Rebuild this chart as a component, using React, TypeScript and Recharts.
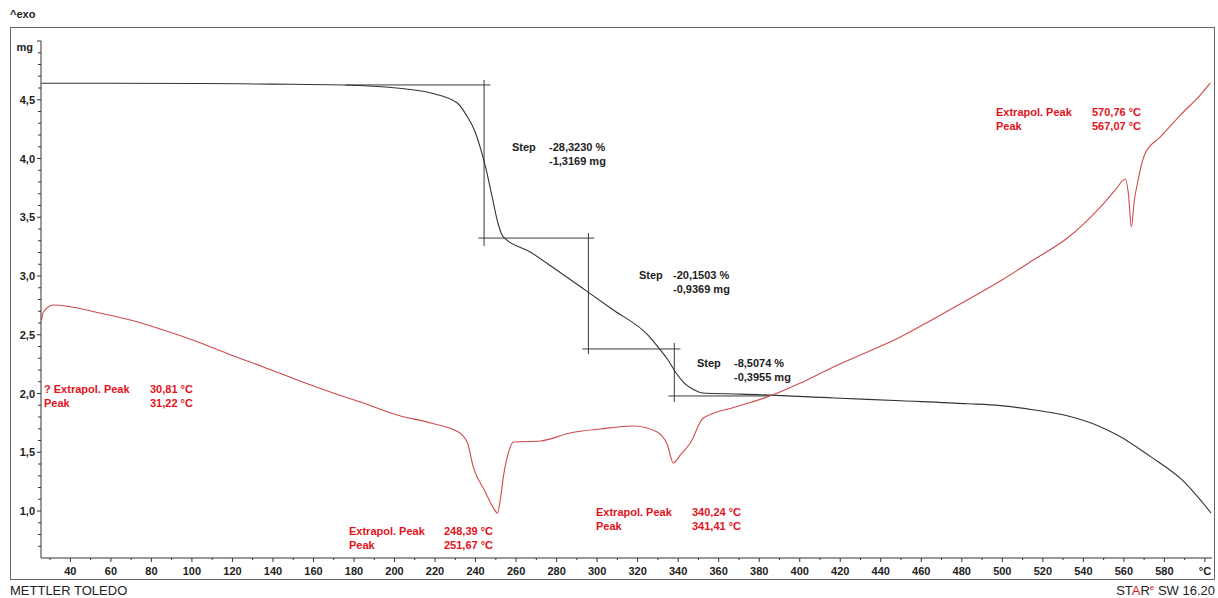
import { ComposedChart, Line, XAxis, YAxis, ReferenceLine } from 'recharts';

// TGA curve (mass, mg)
const tgaTemp = [25.7, 60, 104, 140, 175, 201, 218, 231, 236, 239.4, 242.4, 245.3, 248.3, 251.3, 253.7, 267, 280, 292, 308, 325, 330, 335, 339, 343, 348, 352, 371, 417, 450, 483, 499, 515, 532, 548, 557, 573, 589, 603];
const tgaMass = [4.64, 4.64, 4.638, 4.633, 4.626, 4.6, 4.557, 4.472, 4.353, 4.243, 4.089, 3.902, 3.664, 3.434, 3.332, 3.204, 3.051, 2.906, 2.711, 2.498, 2.396, 2.285, 2.174, 2.089, 2.03, 2.004, 1.995, 1.962, 1.938, 1.913, 1.897, 1.862, 1.81, 1.72, 1.645, 1.465, 1.26, 0.983];

// DSC curve (^exo, drawn in the same vertical units as the plot)
const dscTemp = [25.7, 26.7, 31.6, 53.3, 69.6, 85.9, 102.7, 119, 135.3, 152, 168.3, 184.6, 201.4, 217.7, 231.5, 236, 238.9, 244.8, 248.8, 250.8, 252.2, 253.7, 256.2, 258.7, 272, 286.8, 301.6, 317.9, 329.7, 334.7, 337.6, 341.1, 346, 352.4, 368.2, 384, 400.3, 416.6, 433.4, 449.7, 466, 482.7, 499, 515.3, 532.1, 548.4, 555.8, 560.7, 562.3, 563.7, 565.2, 566.7, 570.6, 578, 587.9, 597.7, 602.7];
const dscSignal = [2.626, 2.694, 2.753, 2.69, 2.625, 2.54, 2.44, 2.33, 2.226, 2.115, 2.013, 1.919, 1.817, 1.749, 1.672, 1.579, 1.374, 1.162, 1.026, 0.983, 1.094, 1.289, 1.494, 1.587, 1.596, 1.664, 1.698, 1.723, 1.672, 1.562, 1.409, 1.477, 1.579, 1.791, 1.885, 1.97, 2.089, 2.226, 2.353, 2.481, 2.634, 2.796, 2.957, 3.136, 3.323, 3.587, 3.732, 3.826, 3.689, 3.417, 3.647, 3.791, 4.047, 4.183, 4.37, 4.54, 4.643];

// step evaluation construction lines: [t1, m1, t2, m2]
const stepLines = [
  [175.7, 4.626, 247.3, 4.626],
  [244.2, 4.668, 244.2, 3.255],
  [241.4, 3.323, 298.6, 3.323],
  [295.7, 3.366, 295.7, 2.336],
  [292.7, 2.379, 341.1, 2.379],
  [338.1, 2.43, 338.1, 1.928],
  [335.2, 1.979, 385, 1.979],
];

const xTicks = [30, 40, 50, 60, 70, 80, 90, 100, 110, 120, 130, 140, 150, 160, 170, 180, 190, 200, 210, 220, 230, 240, 250, 260, 270, 280, 290, 300, 310, 320, 330, 340, 350, 360, 370, 380, 390, 400, 410, 420, 430, 440, 450, 460, 470, 480, 490, 500, 510, 520, 530, 540, 550, 560, 570, 580, 590, 600];
const yTicks = [0.7, 0.8, 0.9, 1.0, 1.1, 1.2, 1.3, 1.4, 1.5, 1.6, 1.7, 1.8, 1.9, 2.0, 2.1, 2.2, 2.3, 2.4, 2.5, 2.6, 2.7, 2.8, 2.9, 3.0, 3.1, 3.2, 3.3, 3.4, 3.5, 3.6, 3.7, 3.8, 3.9, 4.0, 4.1, 4.2, 4.3, 4.4, 4.5, 4.6, 4.7, 4.8, 4.9, 5.0];

const stepNotes = [
  { left: 512, valLeft: 549, top: 140, pct: '-28,3230 %', mg: '-1,3169 mg' },
  { left: 639, valLeft: 673, top: 268, pct: '-20,1503 %', mg: '-0,9369 mg' },
  { left: 697, valLeft: 734, top: 356, pct: '-8,5074 %', mg: '-0,3955 mg' },
];
const peakNotes = [
  { left: 44, valLeft: 150, top: 382, name: '? Extrapol. Peak', extra: '30,81 °C', peak: '31,22 °C' },
  { left: 349, valLeft: 444, top: 524, name: 'Extrapol. Peak', extra: '248,39 °C', peak: '251,67 °C' },
  { left: 596, valLeft: 692, top: 505, name: 'Extrapol. Peak', extra: '340,24 °C', peak: '341,41 °C' },
  { left: 996, valLeft: 1092, top: 105, name: 'Extrapol. Peak', extra: '570,76 °C', peak: '567,07 °C' },
];

const tgaData = tgaTemp.map((t, i) => ({ t, m: tgaMass[i] }));
const dscData = dscTemp.map((t, i) => ({ t, s: dscSignal[i] }));

const FONT = '"Liberation Sans", Arial, sans-serif';
const RED = '#e3121b';

const XTick = ({ x, y, payload }: any) => {
  const v = payload.value;
  const major = v % 20 === 0;
  return (
    <g>
      <line x1={x} x2={x} y1={y} y2={y + (major ? 4 : 2)} stroke="#333" />
      {major && (
        <text x={x} y={y + 17} textAnchor="middle" fontSize={11} fontWeight="bold" fontFamily={FONT} fill="#222">
          {v === 600 ? '°C' : v}
        </text>
      )}
    </g>
  );
};

const YTick = ({ x, y, payload }: any) => {
  const v = payload.value;
  const major = Math.abs(v * 2 - Math.round(v * 2)) < 1e-6;
  const top = Math.abs(v - 5) < 1e-6;
  return (
    <g>
      <line x1={x - (major ? 4 : 3)} x2={x} y1={y} y2={y} stroke="#333" />
      {major && !top && (
        <text x={x - 6} y={y + 4} textAnchor="end" fontSize={11} fontWeight="bold" fontFamily={FONT} fill="#222">
          {v.toFixed(1).replace('.', ',')}
        </text>
      )}
      {top && (
        <text x={x - 8} y={y + 10} textAnchor="end" fontSize={11} fontWeight="bold" fontFamily={FONT} fill="#222">
          mg
        </text>
      )}
    </g>
  );
};

const txt: any = { position: 'absolute', fontFamily: FONT, fontSize: 11, fontWeight: 'bold', lineHeight: '14px', whiteSpace: 'nowrap' };
const foot: any = { position: 'absolute', top: 584, fontFamily: FONT, fontSize: 13, lineHeight: '14px', color: '#222', whiteSpace: 'nowrap' };

export default function App() {
  return (
    <div style={{ position: 'absolute', left: 0, top: 0, width: 1218, height: 598, background: '#fff', overflow: 'hidden' }}>
      <div style={{ ...txt, left: 10, top: 7, color: '#222' }}>^exo</div>
      <div style={{ position: 'absolute', left: 10, top: 27, width: 1205, height: 553, border: '1px solid #666', boxSizing: 'border-box' }} />
      <div style={{ position: 'absolute', left: 0, top: 0 }}>
        <ComposedChart width={1218} height={598} margin={{ top: 41, right: 6, bottom: 18, left: 0 }}>
          <XAxis
            type="number"
            dataKey="t"
            domain={[25.5, 603.5]}
            ticks={xTicks}
            interval={0}
            tick={<XTick />}
            tickLine={false}
            tickSize={0}
            tickMargin={0}
            height={22}
            allowDataOverflow
            stroke="#333"
          />
          <YAxis
            yAxisId="mg"
            type="number"
            domain={[0.6, 5.0]}
            ticks={yTicks}
            interval={0}
            tick={<YTick />}
            tickLine={false}
            tickSize={0}
            tickMargin={0}
            width={41}
            allowDataOverflow
            stroke="#333"
          />
          <YAxis yAxisId="dsc" orientation="right" type="number" domain={[0.6, 5.0]} hide />
          {stepLines.map((s, i) => (
            <ReferenceLine
              key={i}
              yAxisId="mg"
              segment={[{ x: s[0], y: s[1] }, { x: s[2], y: s[3] }]}
              stroke="#3a3a3a"
              strokeWidth={1}
            />
          ))}
          <Line
            yAxisId="mg"
            data={tgaData}
            dataKey="m"
            type="monotone"
            stroke="#333"
            strokeWidth={1.1}
            dot={false}
            isAnimationActive={false}
          />
          <Line
            yAxisId="dsc"
            data={dscData}
            dataKey="s"
            type="monotone"
            stroke="#cf4b4b"
            strokeWidth={1.1}
            dot={false}
            isAnimationActive={false}
          />
        </ComposedChart>
      </div>
      {stepNotes.map((n, i) => (
        <div key={'s' + i}>
          <div style={{ ...txt, left: n.left, top: n.top, color: '#222' }}>Step</div>
          <div style={{ ...txt, left: n.valLeft, top: n.top, color: '#222' }}>
            {n.pct}
            <br />
            {n.mg}
          </div>
        </div>
      ))}
      {peakNotes.map((n, i) => (
        <div key={'p' + i}>
          <div style={{ ...txt, left: n.left, top: n.top, color: RED }}>
            {n.name}
            <br />
            Peak
          </div>
          <div style={{ ...txt, left: n.valLeft, top: n.top, color: RED }}>
            {n.extra}
            <br />
            {n.peak}
          </div>
        </div>
      ))}
      <div style={{ ...foot, left: 10 }}>METTLER TOLEDO</div>
      <div style={{ ...foot, right: 3 }}>
        ST<span style={{ color: RED }}>A</span>R
        <span style={{ fontSize: 8, color: RED, position: 'relative', top: -5 }}>e</span> SW 16.20
      </div>
    </div>
  );
}
